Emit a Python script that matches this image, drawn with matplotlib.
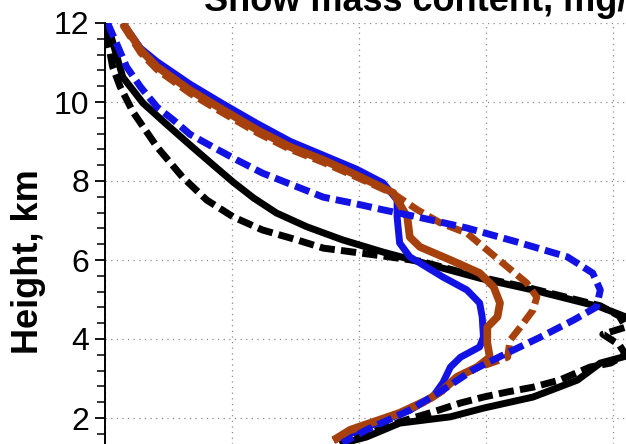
import matplotlib
matplotlib.use("Agg")
import matplotlib.pyplot as plt
from matplotlib.ticker import MultipleLocator

# Profiles of snow mass content vs height
bk_s_x = [0.0, 0.04, 0.14, 0.30, 0.49, 0.67, 0.85, 1.01, 1.17, 1.35, 1.59, 1.87, 2.19, 2.48,
          2.95, 3.37, 3.90, 4.10, 4.30, 4.32, 4.20, 3.90, 3.72, 3.37, 2.98, 2.72, 2.32, 2.06, 1.85]
bk_s_h = [12.0, 11.75, 10.63, 9.97, 9.42, 8.91, 8.41, 7.97, 7.57, 7.19, 6.84, 6.51, 6.20, 5.95,
          5.54, 5.24, 4.81, 4.56, 4.25, 3.90, 3.65, 3.39, 2.96, 2.53, 2.25, 2.03, 1.87, 1.52, 1.34]

bk_d_x = [0.0, 0.04, 0.06, 0.12, 0.22, 0.41, 0.61, 0.80, 1.01, 1.24, 1.51, 1.72, 2.19, 2.48,
          2.95, 3.37, 3.90, 4.05, 4.10, 3.92, 4.05, 4.10, 3.98, 3.82, 3.58, 3.37, 3.17, 2.98,
          2.80, 2.58, 2.32, 2.00, 1.85]
bk_d_h = [11.75, 11.24, 10.89, 10.38, 9.75, 8.86, 8.10, 7.52, 7.09, 6.76, 6.51, 6.30, 6.10, 5.97,
          5.57, 5.27, 4.84, 4.58, 4.30, 4.12, 3.85, 3.60, 3.39, 3.29, 2.96, 2.78, 2.66, 2.53,
          2.38, 2.15, 1.90, 1.52, 1.34]

bl_s_x = [0.14, 0.28, 0.41, 0.67, 0.93, 1.20, 1.46, 1.72, 1.98, 2.19, 2.30, 2.30, 2.32, 2.40,
          2.66, 2.85, 2.95, 2.97, 2.98, 2.95, 2.80, 2.72, 2.66, 2.58, 2.40, 2.06, 1.80]
bl_s_h = [12.0, 11.36, 11.02, 10.45, 9.95, 9.45, 9.00, 8.65, 8.30, 7.95, 7.52, 7.09, 6.43, 6.08,
          5.57, 5.24, 4.91, 4.56, 4.05, 3.80, 3.54, 3.29, 2.89, 2.53, 2.20, 1.77, 1.44]

bl_d_x = [0.02, 0.09, 0.17, 0.28, 0.41, 0.54, 0.67, 0.85, 1.04, 1.24, 1.46, 1.72, 1.98, 2.19,
          2.46, 2.85, 3.24, 3.64, 3.84, 3.90, 3.87, 3.69, 3.43, 3.17, 2.90, 2.66, 2.40, 2.06, 1.87]
bl_d_h = [12.0, 11.49, 10.89, 10.38, 9.87, 9.54, 9.18, 8.86, 8.53, 8.20, 7.92, 7.59, 7.42, 7.27,
          7.09, 6.81, 6.46, 6.08, 5.67, 5.24, 4.81, 4.48, 4.05, 3.65, 3.22, 2.71, 2.20, 1.70, 1.37]

br_s_x = [0.14, 0.28, 0.41, 0.67, 0.93, 1.20, 1.46, 1.72, 1.98, 2.27, 2.38, 2.40, 2.48, 2.72,
          2.95, 3.06, 3.11, 3.09, 3.01, 3.01, 3.03, 2.93, 2.77, 2.66, 2.54, 2.32, 1.93, 1.80]
br_s_h = [12.0, 11.32, 10.89, 10.30, 9.80, 9.29, 8.86, 8.53, 8.15, 7.70, 7.09, 6.58, 6.33, 6.00,
          5.67, 5.32, 4.91, 4.56, 4.30, 3.90, 3.54, 3.29, 3.04, 2.71, 2.46, 2.13, 1.70, 1.44]

br_d_x = [0.14, 0.28, 0.41, 0.67, 0.93, 1.20, 1.46, 1.72, 1.98, 2.27, 2.46, 2.64, 2.85, 3.01,
          3.17, 3.32, 3.40, 3.37, 3.27, 3.19, 3.17, 3.05, 2.93, 2.77, 2.66, 2.54, 2.32, 1.93, 1.80]
br_d_h = [11.95, 11.25, 10.82, 10.22, 9.72, 9.22, 8.80, 8.47, 8.10, 7.68, 7.27, 6.94, 6.68, 6.25,
          5.82, 5.42, 5.06, 4.73, 4.30, 3.97, 3.54, 3.40, 3.27, 3.02, 2.69, 2.44, 2.11, 1.68, 1.42]

y_ticks = [2, 4, 6, 8, 10, 12]

BLACK = "#000000"
BLUE = "#1212E4"
BROWN = "#A6400C"

plt.rcParams["font.family"] = ["Liberation Sans", "DejaVu Sans"]

W, H = 626, 444
fig = plt.figure(figsize=(W / 100, H / 100), dpi=100)
# axes: left spine at x=105 px, 12 km at y=23 px; the picture is a crop, so the
# axes run off the right and bottom edges
ax = fig.add_axes([105 / W, 0, (W - 105) / W, (H - 23) / H])
ax.set_xlim(0, (W - 105) / 127)
ax.set_ylim(12 - (H - 23) / 39.5, 12)

dash = dict(dashes=(2.2, 0.9), dash_capstyle="butt", solid_capstyle="butt")
ax.plot(bk_s_x, bk_s_h, color=BLACK, lw=5.0, solid_capstyle="butt")
ax.plot(bk_d_x, bk_d_h, color=BLACK, lw=5.0, **dash)
ax.plot(bl_s_x, bl_s_h, color=BLUE, lw=5.0, solid_capstyle="butt")
ax.plot(br_s_x, br_s_h, color=BROWN, lw=5.6, solid_capstyle="butt")
ax.plot(br_d_x, br_d_h, color=BROWN, lw=5.0, **dash)
ax.plot(bl_d_x, bl_d_h, color=BLUE, lw=5.0, **dash)

ax.set_xticks([0, 1, 2, 3, 4])
ax.set_yticks(y_ticks)
ax.yaxis.set_minor_locator(MultipleLocator(0.4))
ax.grid(True, which="major", color="#8c8c8c", lw=0.9, linestyle=(0, (1, 3.5)))
ax.tick_params(axis="x", bottom=False, labelbottom=False)
ax.tick_params(axis="y", which="major", direction="out", length=7.5, width=1.3,
               labelsize=23, pad=4)
ax.tick_params(axis="y", which="minor", direction="out", length=5.5, width=1.1)
for s in ("top", "right", "bottom"):
    ax.spines[s].set_visible(False)
ax.spines["left"].set_linewidth(1.4)
ax.set_axisbelow(True)

ax.set_ylabel("Height, km", fontsize=26, fontweight="bold")
ax.yaxis.set_label_coords((46 - 105) / (W - 105), (H - 262) / (H - 23))
fig.text(204 / W, 1 - 11 / H, "Snow mass content, mg/m³", fontsize=26,
         fontweight="bold", ha="left", va="baseline")

fig.savefig("out.png", dpi=100)
